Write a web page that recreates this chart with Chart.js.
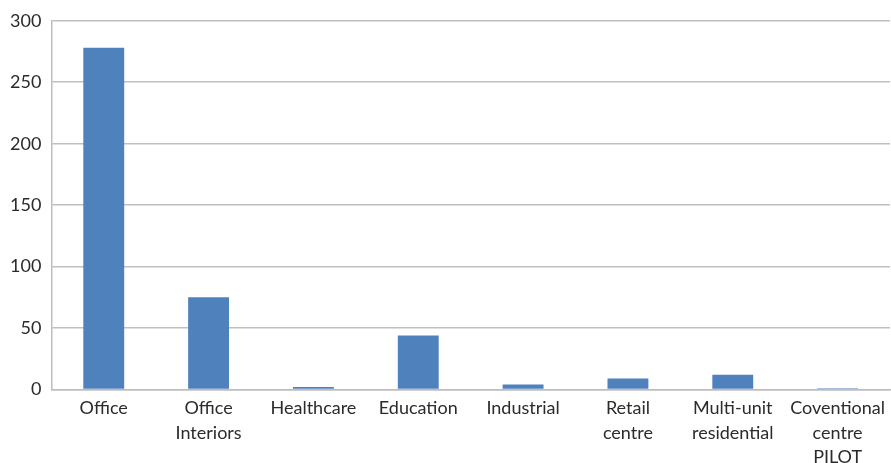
<!DOCTYPE html>
<html lang="en">
<head>
    <meta charset="UTF-8">
    <title>Projects by building type</title>
    <style>
        html, body {
            margin: 0;
            padding: 0;
            background: #ffffff;
            overflow: hidden;
        }
        .wrap {
            position: relative;
            width: 891px;
            height: 476px;
        }
    </style>
</head>
<body>
    <div class="wrap">
        <canvas id="barChart"></canvas>
    </div>

    <script src="https://cdn.jsdelivr.net/npm/chart.js"></script>
    <script>
        // categories (multi-line labels as in the original)
        const categories = [
            ['Office'],
            ['Office', 'Interiors'],
            ['Healthcare'],
            ['Education'],
            ['Industrial'],
            ['Retail', 'centre'],
            ['Multi-unit', 'residential'],
            ['Coventional', 'centre', 'PILOT']
        ];
        // values
        const counts = [278, 75, 2, 44, 4, 9, 12, 1];
        const yTicks = [0, 50, 100, 150, 200, 250, 300];

        const ctx = document.getElementById('barChart').getContext('2d');
        new Chart(ctx, {
            type: 'bar',
            data: {
                labels: categories,
                datasets: [{
                    data: counts,
                    backgroundColor: '#4f81bd',
                    borderWidth: 0,
                    categoryPercentage: 1.0,
                    barPercentage: 0.39
                }]
            },
            options: {
                responsive: true,
                maintainAspectRatio: false,
                animation: false,
                layout: {
                    padding: { top: 10, right: 0, bottom: 0, left: 0 }
                },
                plugins: {
                    legend: { display: false },
                    tooltip: { enabled: false }
                },
                scales: {
                    x: {
                        grid: { display: false, drawTicks: false },
                        border: { display: true, color: '#bdbdbd', width: 1.5 },
                        ticks: {
                            color: '#2b2b2b',
                            font: { family: 'Lato', size: 18, lineHeight: 1.38 },
                            padding: 6,
                            maxRotation: 0,
                            autoSkip: false
                        }
                    },
                    y: {
                        min: 0,
                        max: 300,
                        afterBuildTicks: axis => {
                            axis.ticks = yTicks.map(v => ({ value: v }));
                        },
                        grid: { color: '#c0c0c0', lineWidth: 1.5, drawTicks: false },
                        border: { display: true, color: '#bdbdbd', width: 1.5 },
                        ticks: {
                            color: '#2b2b2b',
                            font: { family: 'Lato', size: 18 },
                            padding: 10
                        }
                    }
                }
            }
        });
    </script>
</body>
</html>
